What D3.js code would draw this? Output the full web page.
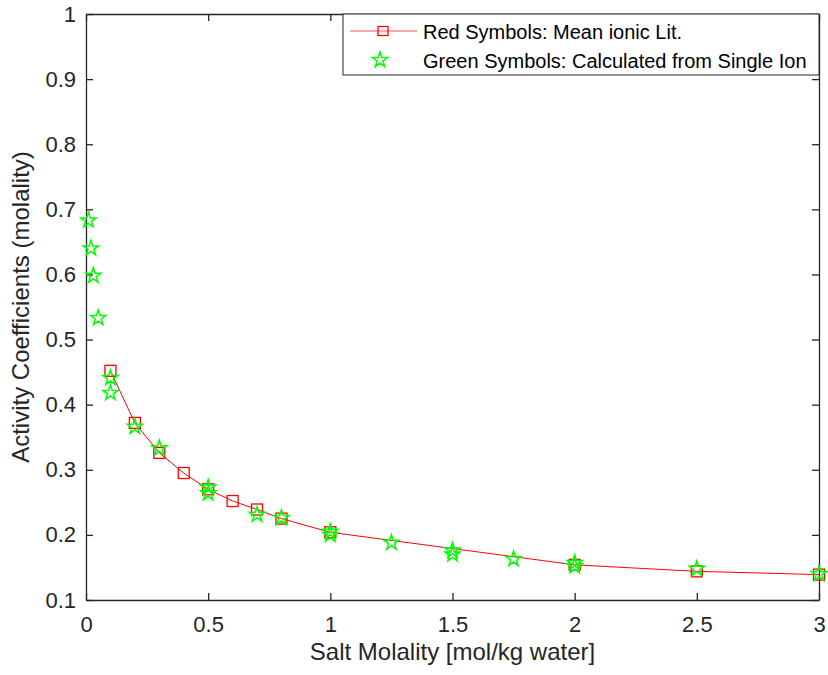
<!DOCTYPE html>
<html>
<head>
<meta charset="utf-8">
<script src="https://cdn.jsdelivr.net/npm/d3@7"></script>
<style>
body { margin: 0; background: #fff; }
text { font-family: "Liberation Sans", Arial, sans-serif; }
</style>
</head>
<body>
<div id="chart"></div>
<script>
// red series: mean ionic activity coefficients from literature
var redX = [0.1, 0.2, 0.3, 0.4, 0.5, 0.6, 0.7, 0.8, 1.0, 2.0, 2.5, 3.0];
var redY = [0.452, 0.372, 0.326, 0.295, 0.270, 0.252, 0.239, 0.225, 0.204, 0.154, 0.144, 0.139];

// green series: calculated from single ion values
var greenX = [0.01, 0.02, 0.03, 0.05, 0.1, 0.1, 0.2, 0.3, 0.5, 0.5, 0.7, 0.8, 1.0, 1.0, 1.25, 1.5, 1.5, 1.75, 2.0, 2.0, 2.5, 3.0];
var greenY = [0.683, 0.640, 0.598, 0.533, 0.441, 0.418, 0.366, 0.333, 0.273, 0.264, 0.231, 0.226, 0.205, 0.200, 0.188, 0.176, 0.170, 0.163, 0.157, 0.152, 0.148, 0.140];

var xTicks = [0, 0.5, 1, 1.5, 2, 2.5, 3];
var yTicks = [0.1, 0.2, 0.3, 0.4, 0.5, 0.6, 0.7, 0.8, 0.9, 1];
var legendLabels = ["Red Symbols: Mean ionic Lit.", "Green Symbols: Calculated from Single Ion"];

var width = 828, height = 675;
var margin = {top: 14, right: 9, bottom: 75, left: 86};
var w = width - margin.left - margin.right;
var h = height - margin.top - margin.bottom;

var svg = d3.select("#chart").append("svg")
    .attr("width", width)
    .attr("height", height);

var g = svg.append("g")
    .attr("transform", "translate(" + margin.left + "," + margin.top + ")");

var xScale = d3.scaleLinear().domain([0, 3]).range([0, w]);
var yScale = d3.scaleLinear().domain([0.1, 1]).range([h, 0]);

var axisColor = "#262626";

// axes (ticks pointing inward, box on)
var fmt = function(d) { return String(+d.toFixed(2)); };

var xAxis = g.append("g")
    .attr("transform", "translate(0," + h + ")")
    .call(d3.axisBottom(xScale).tickValues(xTicks).tickFormat(fmt).tickSizeInner(-7).tickSizeOuter(0).tickPadding(16));
var xTop = g.append("g")
    .call(d3.axisTop(xScale).tickValues(xTicks).tickFormat("").tickSizeInner(-7).tickSizeOuter(0));
var yAxis = g.append("g")
    .call(d3.axisLeft(yScale).tickValues(yTicks).tickFormat(fmt).tickSizeInner(-7).tickSizeOuter(0).tickPadding(10));
var yRight = g.append("g")
    .attr("transform", "translate(" + w + ",0)")
    .call(d3.axisRight(yScale).tickValues(yTicks).tickFormat("").tickSizeInner(-7).tickSizeOuter(0));

[xAxis, xTop, yAxis, yRight].forEach(function(a) {
    a.selectAll("path").attr("stroke", axisColor).attr("stroke-width", 1.3);
    a.selectAll("line").attr("stroke", axisColor).attr("stroke-width", 1.3);
    a.selectAll("text").attr("fill", axisColor).style("font-size", "22px");
});

// axis labels
g.append("text")
    .attr("x", w / 2)
    .attr("y", h + 60)
    .attr("text-anchor", "middle")
    .attr("fill", axisColor)
    .style("font-size", "24px")
    .text("Salt Molality [mol/kg water]");

g.append("text")
    .attr("transform", "rotate(-90)")
    .attr("x", -h / 2)
    .attr("y", -57)
    .attr("text-anchor", "middle")
    .attr("fill", axisColor)
    .style("font-size", "24px")
    .text("Activity Coefficients (molality)");

// red line
var redData = redX.map(function(x, i) { return [x, redY[i]]; });
var line = d3.line()
    .x(function(d) { return xScale(d[0]); })
    .y(function(d) { return yScale(d[1]); });

g.append("path")
    .datum(redData)
    .attr("d", line)
    .attr("fill", "none")
    .attr("stroke", "#ff0000")
    .attr("stroke-width", 1);

// red squares
var sq = 11;
g.selectAll(".sq")
    .data(redData)
    .enter()
    .append("rect")
    .attr("x", function(d) { return xScale(d[0]) - sq / 2; })
    .attr("y", function(d) { return yScale(d[1]) - sq / 2; })
    .attr("width", sq)
    .attr("height", sq)
    .attr("fill", "none")
    .attr("stroke", "#ff0000")
    .attr("stroke-width", 1.3);

// green stars
var star = d3.symbol().type(d3.symbolStar).size(72);
var greenData = greenX.map(function(x, i) { return [x, greenY[i]]; });
g.selectAll(".st")
    .data(greenData)
    .enter()
    .append("path")
    .attr("d", star)
    .attr("transform", function(d) { return "translate(" + xScale(d[0]) + "," + yScale(d[1]) + ")"; })
    .attr("fill", "none")
    .attr("stroke", "#00ff00")
    .attr("stroke-width", 1.5);

// legend
var lx = 343 - margin.left, ly = 0, lw = w - lx, lh = 61;
var legend = g.append("g");
legend.append("rect")
    .attr("x", lx)
    .attr("y", ly)
    .attr("width", lw)
    .attr("height", lh)
    .attr("fill", "#fff")
    .attr("stroke", axisColor)
    .attr("stroke-width", 1);

legend.append("line")
    .attr("x1", lx + 7).attr("x2", lx + 74)
    .attr("y1", ly + 17).attr("y2", ly + 17)
    .attr("stroke", "#ff5050").attr("stroke-width", 1);
legend.append("rect")
    .attr("x", lx + 40 - 5).attr("y", ly + 17 - 4.5)
    .attr("width", 10).attr("height", 9)
    .attr("fill", "none").attr("stroke", "#ff0000").attr("stroke-width", 1.3);
legend.append("path")
    .attr("d", star)
    .attr("transform", "translate(" + (lx + 37) + "," + (ly + 46) + ")")
    .attr("fill", "none").attr("stroke", "#00ff00").attr("stroke-width", 1.5);

legend.selectAll(".lt")
    .data(legendLabels)
    .enter()
    .append("text")
    .attr("x", lx + 80)
    .attr("y", function(d, i) { return ly + 18 + i * 28.5; })
    .attr("dy", "0.35em")
    .attr("fill", "#000")
    .style("font-size", "20px")
    .text(function(d) { return d; });
</script>
</body>
</html>
